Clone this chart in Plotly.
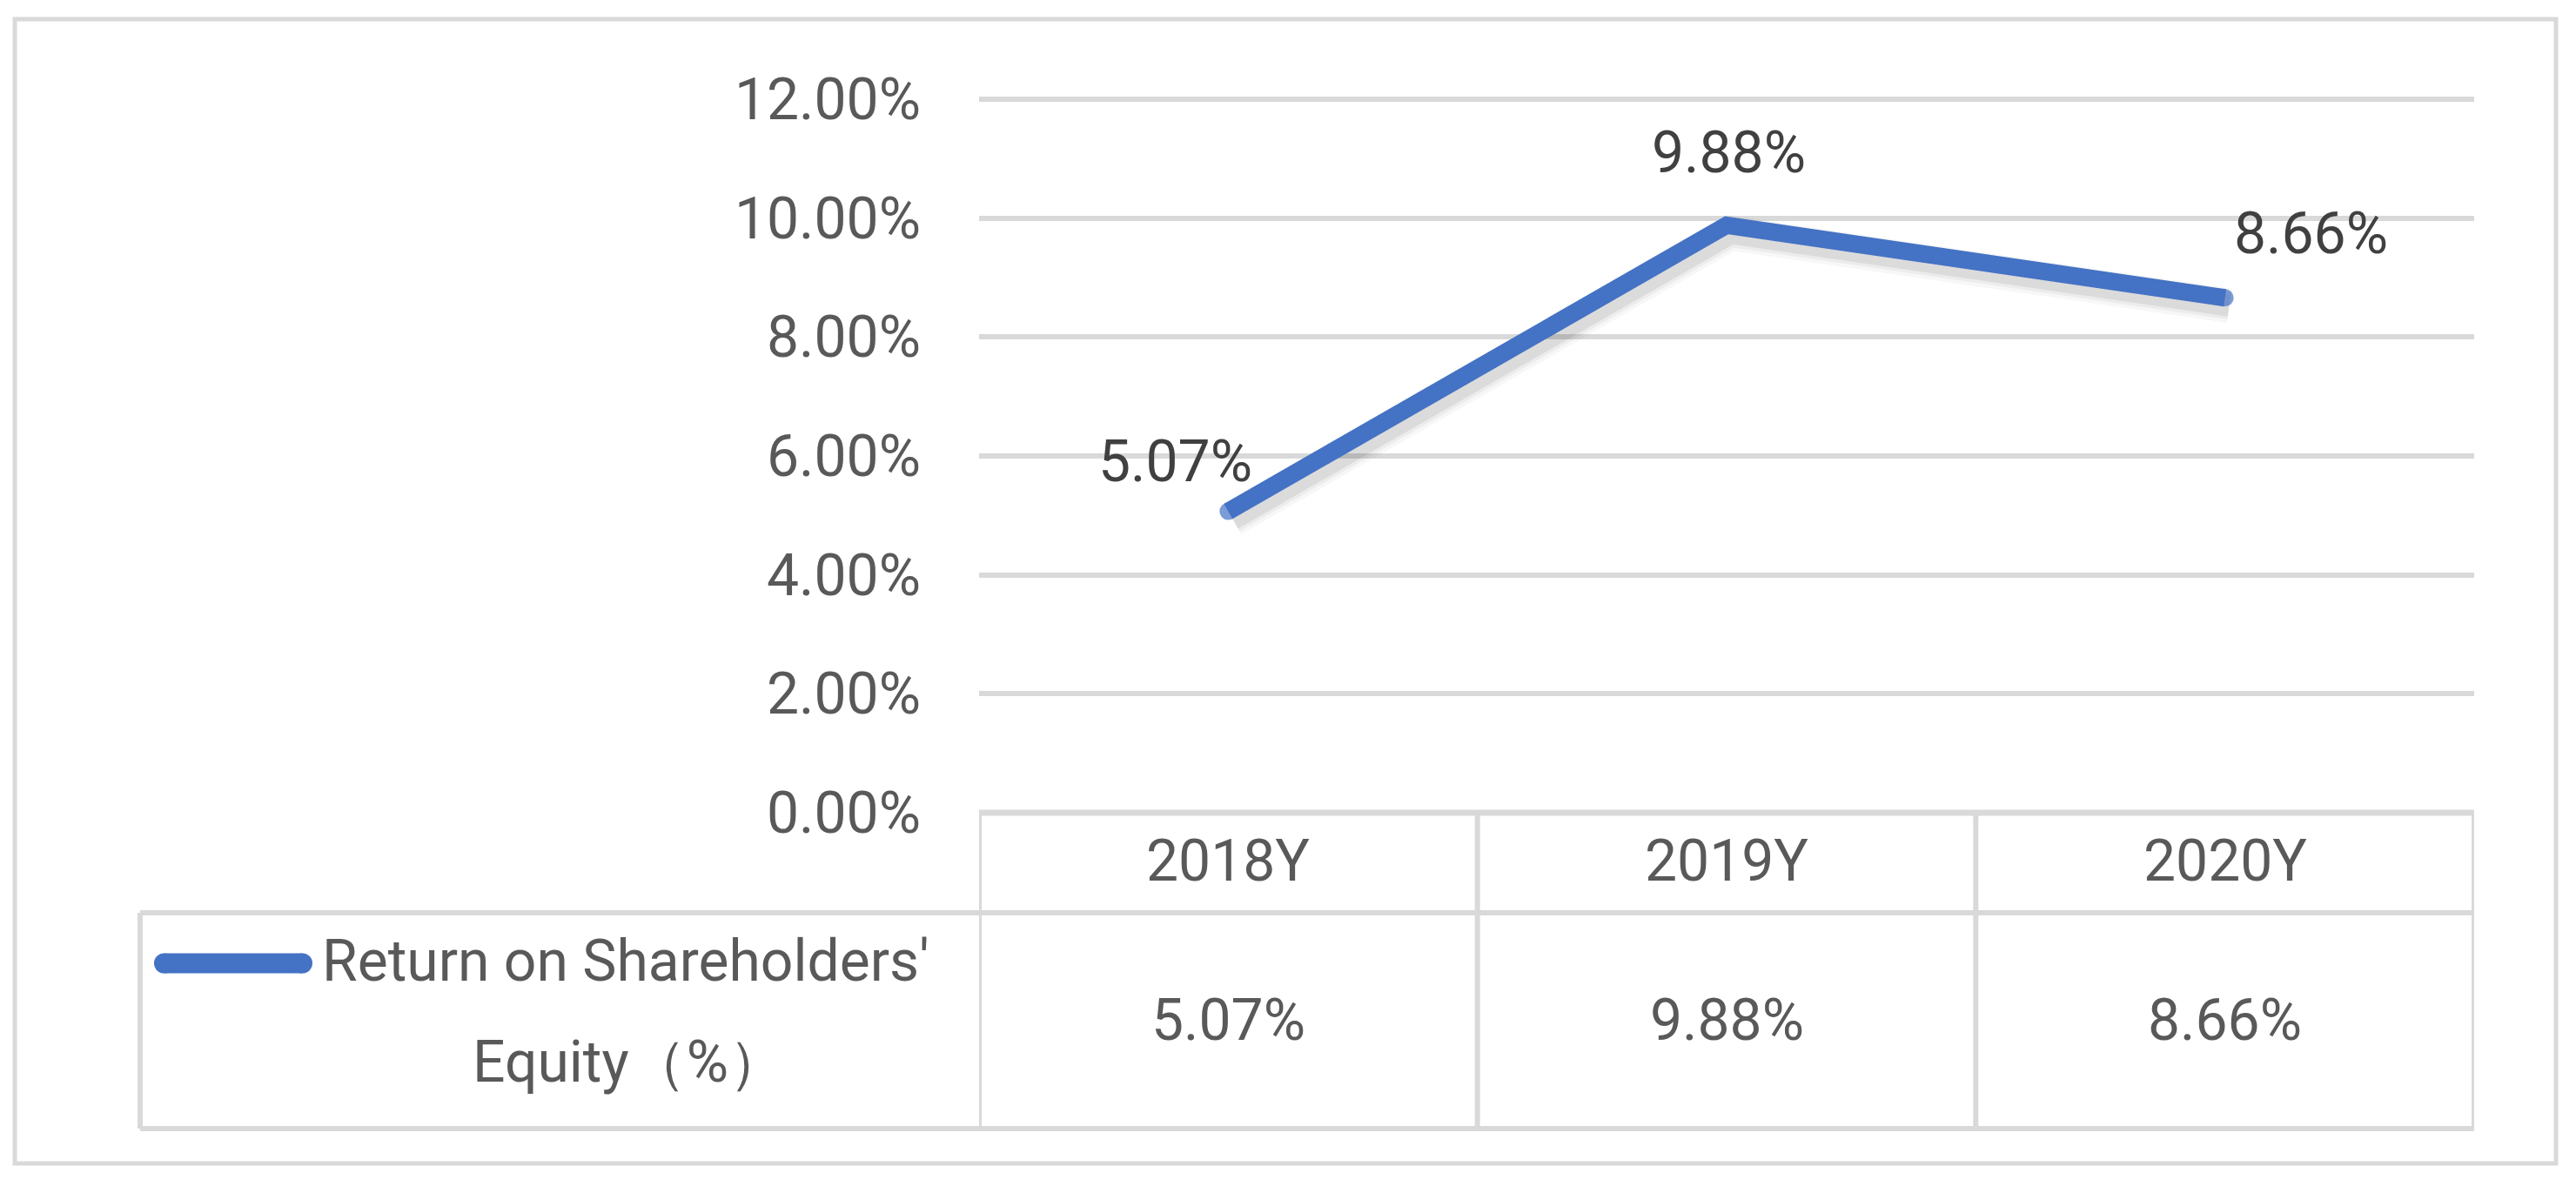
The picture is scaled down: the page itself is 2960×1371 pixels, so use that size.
import plotly.graph_objects as go

# ---------------- data ----------------
categories = ["2018Y", "2019Y", "2020Y"]
roe_values = [5.07, 9.88, 8.66]
series_name_line1 = "Return on Shareholders'"
series_name_line2 = "Equity（%）"
y_ticks = [0, 2, 4, 6, 8, 10, 12]
y_tick_labels = [f"{v:.2f}%" for v in y_ticks]

# ---------------- layout helpers ----------------
W, H = 2960, 1371
def X(px):
    return px / W
def Y(py):
    return 1 - py / H

BLUE = "#4472C4"
GRID = "#D9D9D9"
TXT = "#595959"
LBL = "#404040"
FONT = "Roboto"
FS = 66

Y_MAX = 12.02                       # tiny headroom so the 12% gridline is drawn
PX_PER_UNIT = 68.33
plot_left, plot_right = 1125, 2843
plot_bottom = 934
plot_top = plot_bottom - Y_MAX * PX_PER_UNIT
row_mid, table_bottom = 1049, 1297
legend_left = 161

fig = go.Figure()

# axes-only trace on the main (grid) subplot
fig.add_trace(go.Scatter(x=categories, y=roe_values, mode="none", xaxis="x", yaxis="y",
                         hoverinfo="skip", showlegend=False))

# soft drop shadow (same data on slightly offset overlay axes)
for w, a in [(40, 0.03), (32, 0.045), (25, 0.07)]:
    fig.add_trace(go.Scatter(
        x=categories, y=roe_values, mode="lines",
        line=dict(color=f"rgba(0,0,0,{a})", width=w),
        xaxis="x2", yaxis="y2", hoverinfo="skip", showlegend=False))

fig.add_trace(go.Scatter(
    x=categories, y=roe_values, mode="lines+markers",
    line=dict(color=BLUE, width=20),
    marker=dict(color=BLUE, size=[20, 0, 20], line=dict(width=0)),
    name=series_name_line1 + " " + series_name_line2,
    xaxis="x3", yaxis="y3", showlegend=False))

shapes = []
# outer chart border
shapes.append(dict(type="rect", xref="paper", yref="paper",
                   x0=X(17), x1=X(2937), y0=Y(1337), y1=Y(22),
                   line=dict(color=GRID, width=5), layer="below"))

# data table lines
n = len(categories)
shapes.append(dict(type="line", xref="x", yref="paper", x0=-0.5, x1=n - 0.5,
                   y0=Y(plot_bottom), y1=Y(plot_bottom), line=dict(color=GRID, width=7)))
for yy in (row_mid, table_bottom):
    shapes.append(dict(type="line", xref="paper", yref="paper", x0=X(legend_left), x1=X(plot_right),
                       y0=Y(yy), y1=Y(yy), line=dict(color=GRID, width=6)))
for i in range(n + 1):
    shapes.append(dict(type="line", xref="x", yref="paper", x0=i - 0.5, x1=i - 0.5,
                       y0=Y(plot_bottom), y1=Y(table_bottom), line=dict(color=GRID, width=6)))
shapes.append(dict(type="line", xref="paper", yref="paper", x0=X(legend_left), x1=X(legend_left),
                   y0=Y(row_mid), y1=Y(table_bottom), line=dict(color=GRID, width=6)))

# legend key (rounded bar)
kx0, kx1, ky, kh = 177, 359, 1107, 23
shapes.append(dict(type="rect", xref="paper", yref="paper",
                   x0=X(kx0 + kh / 2), x1=X(kx1 - kh / 2), y0=Y(ky + kh / 2), y1=Y(ky - kh / 2),
                   fillcolor=BLUE, line=dict(width=0)))
for cx in (kx0 + kh / 2, kx1 - kh / 2):
    shapes.append(dict(type="circle", xref="paper", yref="paper",
                       x0=X(cx - kh / 2), x1=X(cx + kh / 2), y0=Y(ky + kh / 2), y1=Y(ky - kh / 2),
                       fillcolor=BLUE, line=dict(width=0)))

annotations = []
# table header and values
for i, (c, v) in enumerate(zip(categories, roe_values)):
    annotations.append(dict(x=i, y=Y(989), xref="x", yref="paper", text=c, showarrow=False,
                            xanchor="center", yanchor="middle", font=dict(family=FONT, size=FS, color=TXT)))
    annotations.append(dict(x=i, y=Y(1172), xref="x", yref="paper", text=f"{v:.2f}%", showarrow=False,
                            xanchor="center", yanchor="middle", font=dict(family=FONT, size=FS, color=TXT)))
# series name in table
annotations.append(dict(x=X(368), y=Y(1104), xref="paper", yref="paper", text=series_name_line1,
                        showarrow=False, xanchor="left", yanchor="middle",
                        font=dict(family=FONT, size=FS, color=TXT)))
annotations.append(dict(x=X(541), y=Y(1220), xref="paper", yref="paper", text=series_name_line2,
                        showarrow=False, xanchor="left", yanchor="middle",
                        font=dict(family=FONT, size=FS, color=TXT)))
# data labels
label_shifts = [(-61, 57), (2, 83), (99, 74)]
for c, v, (dx, dy) in zip(categories, roe_values, label_shifts):
    annotations.append(dict(x=c, y=v, xref="x", yref="y", text=f"{v:.2f}%", showarrow=False,
                            xanchor="center", yanchor="middle", xshift=dx, yshift=dy,
                            font=dict(family=FONT, size=FS, color=LBL)))

xdom = [X(plot_left), X(plot_right)]
ydom = [Y(plot_bottom), Y(plot_top)]
sdx, sdy = 5, 9
hidden_x = dict(type="category", range=[-0.5, n - 0.5], visible=False, automargin=False, fixedrange=True)
hidden_y = dict(range=[0, Y_MAX], visible=False, automargin=False, fixedrange=True)
fig.update_layout(
    width=W, height=H,
    margin=dict(l=0, r=0, t=0, b=0, pad=0, autoexpand=False),
    paper_bgcolor="white", plot_bgcolor="rgba(0,0,0,0)",
    showlegend=False,
    xaxis=dict(domain=xdom, type="category", range=[-0.5, n - 0.5], showgrid=False,
               showticklabels=False, zeroline=False, showline=False, ticks="",
               automargin=False, fixedrange=True),
    yaxis=dict(domain=ydom, range=[0, Y_MAX], tickvals=y_ticks, ticktext=y_tick_labels,
               showgrid=True, gridcolor=GRID, gridwidth=6, zeroline=False, showline=False,
               ticks="", ticklabelstandoff=66, automargin=False, fixedrange=True,
               tickfont=dict(family=FONT, size=FS, color=TXT)),
    xaxis2=dict(hidden_x, domain=[X(plot_left + sdx), X(plot_right + sdx)], anchor="y2"),
    yaxis2=dict(hidden_y, domain=[Y(plot_bottom + sdy), Y(plot_top + sdy)], anchor="x2"),
    xaxis3=dict(hidden_x, domain=xdom, anchor="y3"),
    yaxis3=dict(hidden_y, domain=ydom, anchor="x3"),
    shapes=shapes,
    annotations=annotations,
)

fig.write_html("out.html", config={"displayModeBar": False},
               post_script="document.body.style.margin='0';document.body.style.overflow='hidden';")
